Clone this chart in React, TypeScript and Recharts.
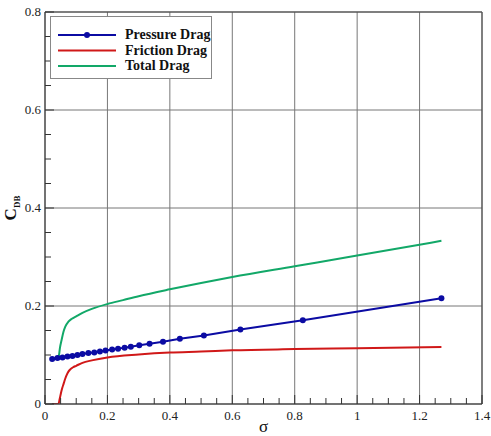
import {
  ComposedChart,
  Line,
  XAxis,
  YAxis,
  ReferenceLine,
  Legend,
  Label,
} from "recharts";

// cavitation number sigma vs. drag coefficient components
const pressureSigma = [
  0.023, 0.04, 0.056, 0.072, 0.088, 0.104, 0.12, 0.139, 0.158, 0.176, 0.194, 0.215,
  0.234, 0.255, 0.275, 0.302, 0.335, 0.378, 0.432, 0.509, 0.626, 0.826, 1.27,
];
const pressureDrag = [
  0.092, 0.094, 0.095, 0.097, 0.098, 0.1, 0.102, 0.104, 0.105, 0.107, 0.109, 0.111,
  0.113, 0.115, 0.117, 0.12, 0.123, 0.127, 0.133, 0.14, 0.152, 0.171, 0.216,
];

const frictionSigma = [
  0.022, 0.043, 0.047, 0.051, 0.055, 0.06, 0.065, 0.07, 0.075, 0.08, 0.09, 0.1, 0.12,
  0.15, 0.2, 0.3, 0.4, 0.5, 0.6, 0.8, 1.0, 1.27,
];
const frictionDrag = [
  0, 0, 0.01, 0.022, 0.032, 0.042, 0.052, 0.06, 0.066, 0.07, 0.075, 0.078, 0.084,
  0.089, 0.095, 0.101, 0.105, 0.107, 0.1095, 0.112, 0.114, 0.1165,
];

const totalSigma = [
  0.023, 0.04, 0.044, 0.048, 0.053, 0.059, 0.065, 0.075, 0.086, 0.1, 0.12, 0.15, 0.2,
  0.25, 0.3, 0.4, 0.5, 0.6, 0.8, 1.0, 1.27,
];
const totalDrag = [
  0.092, 0.094, 0.097, 0.115, 0.13, 0.147, 0.158, 0.168, 0.174, 0.179, 0.186, 0.194,
  0.204, 0.212, 0.22, 0.234, 0.247, 0.259, 0.281, 0.303, 0.333,
];

// grid lines at the inner major ticks
const xGrid = [0.2, 0.4, 0.6, 0.8, 1, 1.2];
const yGrid = [0.2, 0.4, 0.6];
// minor ticks every 0.05, majors every 0.2
const xTicks = Array.from({ length: 29 }, (_, i) => i * 0.05);
const yTicks = Array.from({ length: 17 }, (_, i) => i * 0.05);

const pressureData = pressureSigma.map((s, i) => ({ s, v: pressureDrag[i] }));
const frictionData = frictionSigma.map((s, i) => ({ s, v: frictionDrag[i] }));
const totalData = totalSigma.map((s, i) => ({ s, v: totalDrag[i] }));

const BLUE = "#0b0ba3";
const RED = "#d01818";
const GREEN = "#12a868";
const FONT = "Liberation Serif";

const fmt = (v: number) => String(Number(v.toFixed(2)));
const isMajor = (v: number) => Math.abs(v / 0.2 - Math.round(v / 0.2)) < 1e-6;

// inward ticks: long at majors, short at minors, labels only on majors
function XTick(props: any) {
  const { x, y, payload } = props;
  const major = isMajor(payload.value);
  return (
    <g>
      <line x1={x} x2={x} y1={y} y2={y - (major ? 9 : 6)} stroke="#333" strokeWidth={1} />
      {major && (
        <text x={x} y={y + 16} textAnchor="middle" fontFamily={FONT} fontSize={13} fill="#222">
          {fmt(payload.value)}
        </text>
      )}
    </g>
  );
}

function YTick(props: any) {
  const { x, y, payload } = props;
  const major = isMajor(payload.value);
  return (
    <g>
      <line x1={x} x2={x + (major ? 9 : 6)} y1={y} y2={y} stroke="#333" strokeWidth={1} />
      {major && (
        <text x={x - 4} y={y + 4} textAnchor="end" fontFamily={FONT} fontSize={13} fill="#222">
          {fmt(payload.value)}
        </text>
      )}
    </g>
  );
}

const legendItems = [
  { name: "Pressure Drag", color: BLUE, dot: true },
  { name: "Friction Drag", color: RED, dot: false },
  { name: "Total Drag", color: GREEN, dot: false },
];

function LegendBox() {
  return (
    <div
      style={{
        width: 162,
        height: 63,
        boxSizing: "border-box",
        border: "1px solid #888",
        background: "#fff",
        position: "relative",
      }}
    >
      <svg width={70} height={63} style={{ position: "absolute", left: 0, top: 0 }}>
        {legendItems.map((it, i) => (
          <g key={it.name}>
            <line x1={7} x2={65} y1={18 + i * 15.5} y2={18 + i * 15.5} stroke={it.color} strokeWidth={2} />
            {it.dot && <circle cx={36} cy={18 + i * 15.5} r={3} fill={it.color} />}
          </g>
        ))}
      </svg>
      {legendItems.map((it, i) => (
        <div
          key={it.name}
          style={{
            position: "absolute",
            left: 74,
            top: 10 + i * 15.5,
            fontFamily: FONT,
            fontWeight: "bold",
            fontSize: 14,
            lineHeight: "16px",
            color: "#111",
            whiteSpace: "nowrap",
          }}
        >
          {it.name}
        </div>
      ))}
    </div>
  );
}

function YTitle(props: any) {
  const { viewBox } = props;
  const cy = viewBox.y + viewBox.height / 2;
  return (
    <text
      transform={`translate(16,${cy}) rotate(-90)`}
      textAnchor="middle"
      fontFamily={FONT}
      fontWeight="bold"
      fill="#111"
    >
      <tspan fontSize={17}>C</tspan>
      <tspan fontSize={9} dy={4}>DB</tspan>
    </text>
  );
}

function XTitle(props: any) {
  const { viewBox } = props;
  return (
    <text
      x={viewBox.x + viewBox.width / 2}
      y={432}
      textAnchor="middle"
      fontFamily={FONT}
      fontSize={17}
      fill="#111"
    >
      σ
    </text>
  );
}

export default function App() {
  return (
    <div style={{ position: "absolute", left: 0, top: 0, background: "#fff" }}>
      <ComposedChart
        width={491}
        height={436}
        margin={{ top: 12, right: 9, bottom: 2, left: 0 }}
      >
        {xGrid.map((v) => (
          <ReferenceLine key={`gx${v}`} x={v} stroke="#777" strokeWidth={1} />
        ))}
        {yGrid.map((v) => (
          <ReferenceLine key={`gy${v}`} y={v} stroke="#777" strokeWidth={1} />
        ))}
        {/* top and right frame edges */}
        <ReferenceLine y={0.8} stroke="#555" strokeWidth={1.5} />
        <ReferenceLine x={1.4} stroke="#555" strokeWidth={1.5} />
        <XAxis
          type="number"
          dataKey="s"
          domain={[0, 1.4]}
          ticks={xTicks}
          interval={0}
          height={30}
          tickSize={0}
          tickMargin={0}
          tickLine={false}
          tick={XTick}
          axisLine={{ stroke: "#444", strokeWidth: 1.5 }}
          allowDataOverflow
        >
          <Label content={XTitle} />
        </XAxis>
        <YAxis
          type="number"
          domain={[0, 0.8]}
          ticks={yTicks}
          interval={0}
          width={45}
          tickSize={0}
          tickMargin={0}
          tickLine={false}
          tick={YTick}
          axisLine={{ stroke: "#444", strokeWidth: 1.5 }}
          allowDataOverflow
        >
          <Label content={YTitle} />
        </YAxis>
        <Legend
          layout="vertical"
          align="center"
          verticalAlign="middle"
          wrapperStyle={{ left: 50, top: 16, width: 162, height: 63 }}
          content={<LegendBox />}
        />
        <Line
          data={frictionData}
          dataKey="v"
          name="Friction Drag"
          type="monotone"
          stroke={RED}
          strokeWidth={2}
          dot={false}
          isAnimationActive={false}
        />
        <Line
          data={totalData}
          dataKey="v"
          name="Total Drag"
          type="monotone"
          stroke={GREEN}
          strokeWidth={2}
          dot={false}
          isAnimationActive={false}
        />
        <Line
          data={pressureData}
          dataKey="v"
          name="Pressure Drag"
          type="linear"
          stroke={BLUE}
          strokeWidth={2}
          dot={{ r: 3, fill: BLUE, stroke: BLUE, strokeWidth: 0 }}
          isAnimationActive={false}
        />
      </ComposedChart>
    </div>
  );
}
